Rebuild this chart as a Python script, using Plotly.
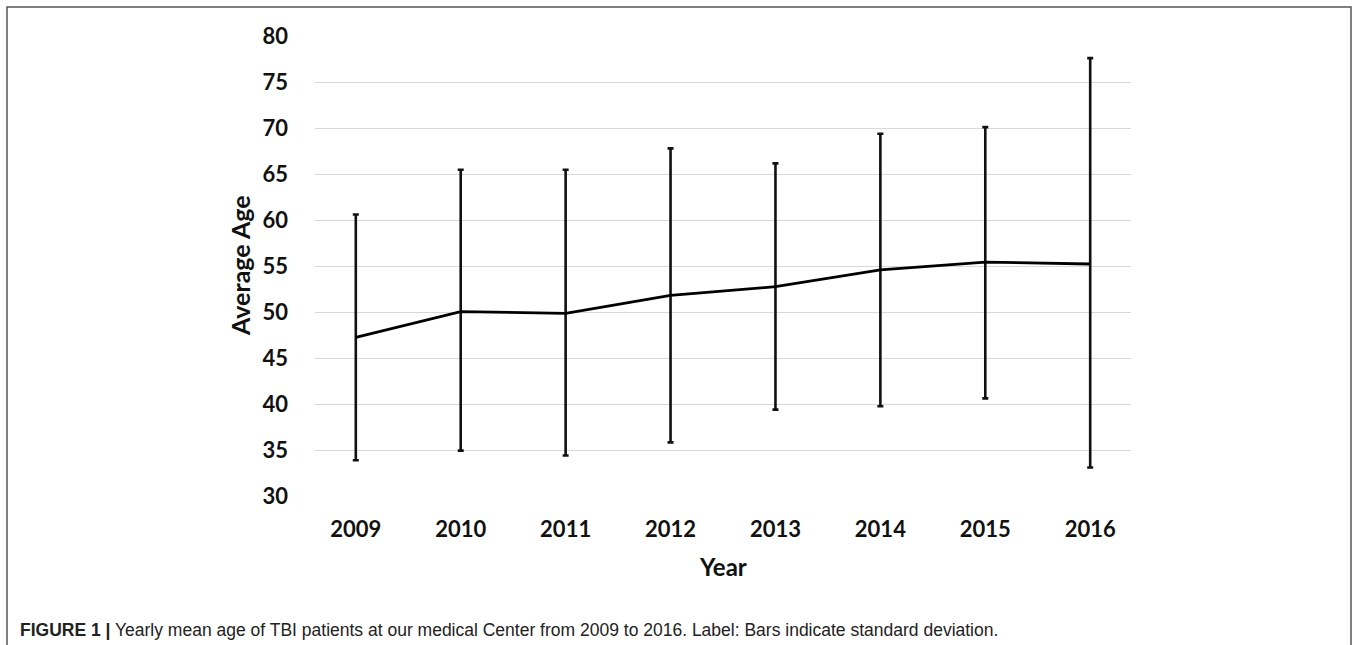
import plotly.graph_objects as go

years = ["2009", "2010", "2011", "2012", "2013", "2014", "2015", "2016"]
mean_age = [47.25, 50.03, 49.86, 51.8, 52.75, 54.57, 55.43, 55.22]
upper = [60.6, 65.47, 65.47, 67.79, 66.16, 69.38, 70.1, 77.6]
lower = [33.88, 34.93, 34.4, 35.83, 39.39, 39.75, 40.61, 33.1]
y_ticks = [30, 35, 40, 45, 50, 55, 60, 65, 70, 75, 80]

err_plus = [u - m for u, m in zip(upper, mean_age)]
err_minus = [m - l for m, l in zip(mean_age, lower)]

W, H = 1358, 645
L, R, T, B = 315, 1131, 36, 496

fig = go.Figure()
fig.add_trace(go.Scatter(
    x=years, y=mean_age, mode="lines",
    line=dict(color="black", width=2.8),
    error_y=dict(type="data", symmetric=False, array=err_plus, arrayminus=err_minus,
                 color="#111111", thickness=2.6, width=3),
    showlegend=False, hoverinfo="skip",
))

def px(x):
    return (x - L) / (R - L)

def py(y):
    return (B - y) / (B - T)

fig.update_layout(
    width=W, height=H,
    margin=dict(l=L, r=W - R, t=T, b=H - B),
    plot_bgcolor="white", paper_bgcolor="white",
    font=dict(family="Lato", color="#111111"),
    xaxis=dict(
        showgrid=False, showline=False, zeroline=False,
        tickfont=dict(family="Lato", size=22, color="#111111", weight="bold"),
        ticklabelstandoff=18,
    ),
    yaxis=dict(
        range=[30, 80], tickvals=y_ticks, showgrid=True, gridcolor="#d9d9d9", gridwidth=1.2,
        zeroline=False, showline=False,
        tickfont=dict(family="Lato", size=22, color="#111111", weight="bold"),
        ticklabelstandoff=26,
    ),
    shapes=[
        dict(type="rect", xref="paper", yref="paper",
             x0=px(7), x1=px(1351), y0=py(700), y1=py(7),
             line=dict(color="#555555", width=1.5), fillcolor="rgba(0,0,0,0)", layer="below"),
    ],
    annotations=[
        dict(text="<b>Year</b>", xref="paper", yref="paper", x=0.5, y=py(566),
             xanchor="center", yanchor="middle", showarrow=False,
             font=dict(family="Lato", size=24, color="#111111")),
        dict(text="<b>Average Age</b>", xref="paper", yref="paper", x=px(240), y=0.5,
             xanchor="center", yanchor="middle", showarrow=False, textangle=-90,
             font=dict(family="Lato", size=25, color="#111111")),
        dict(text="<b>FIGURE 1 |</b> Yearly mean age of TBI patients at our medical Center from 2009 to 2016. Label: Bars indicate standard deviation.",
             xref="paper", yref="paper", x=px(18), y=py(630), xanchor="left", yanchor="middle",
             showarrow=False, font=dict(family="Liberation Sans", size=17.5, color="#222222")),
    ],
)

fig.write_html("out.html")
